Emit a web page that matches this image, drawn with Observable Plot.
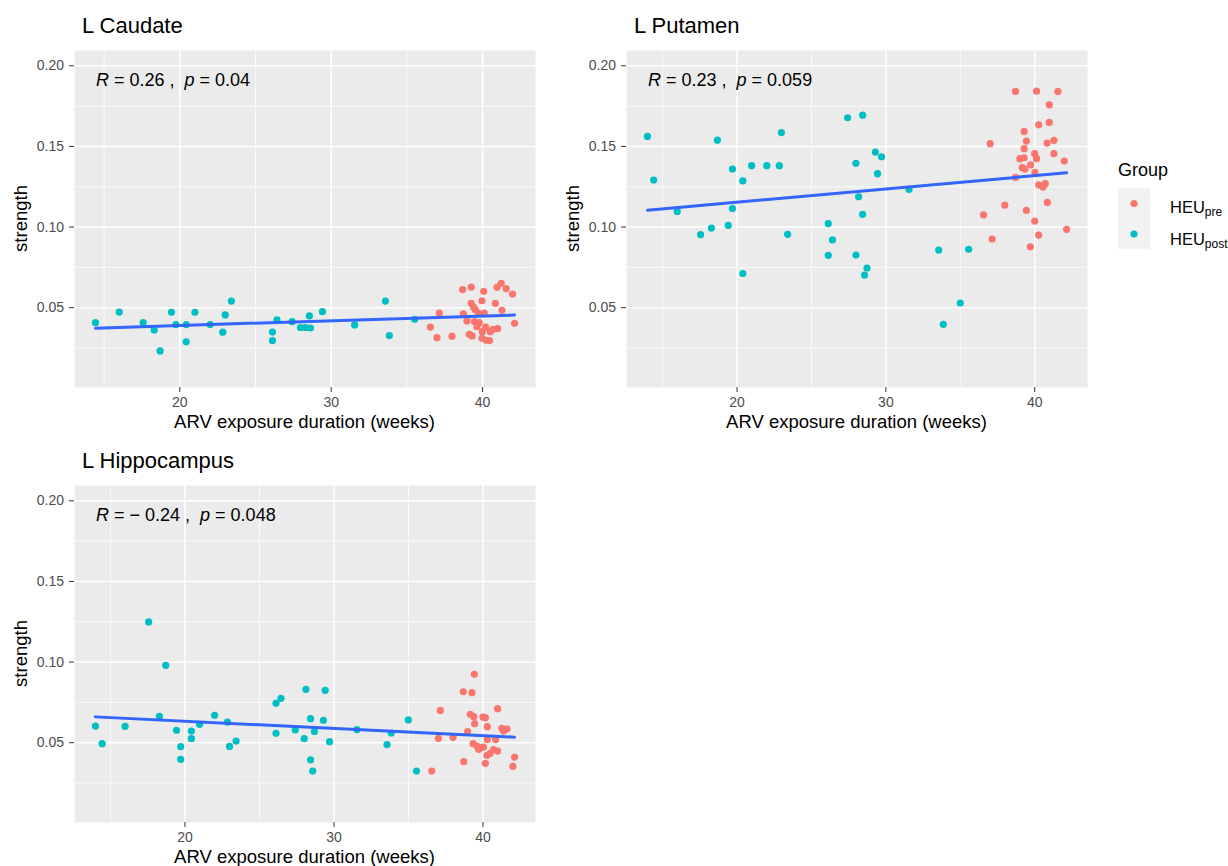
<!DOCTYPE html>
<html>
<head>
<meta charset="utf-8">
<script src="https://cdn.jsdelivr.net/npm/d3@7"></script>
<script src="https://cdn.jsdelivr.net/npm/@observablehq/plot@0.6"></script>
<style>
  body { margin: 0; background: #ffffff; }
  #wrap { position: relative; width: 1228px; height: 866px; font-family: "Liberation Sans", Arial, Helvetica, sans-serif; }
  #wrap svg { position: absolute; overflow: visible; }
</style>
</head>
<body>
<div id="wrap"></div>
<script>
// ---------- data ----------
const panelTitles = ["L Caudate", "L Putamen", "L Hippocampus"];
const statR = ["0.26", "0.23", "\u2212 0.24"];
const statP = ["0.04", "0.059", "0.048"];
const groupLabels = ["pre", "post"];          // HEU_pre, HEU_post
const groupColors = ["#F8766D", "#00BFC4"];
const xTicks = [20, 30, 40];
const xMinorTicks = [15, 25, 35];
const yTicks = [0.05, 0.10, 0.15, 0.20];
const yMinorTicks = [0.025, 0.075, 0.125, 0.175];
const yLimits = [0.01, 0.20];
const xLabel = "ARV exposure duration (weeks)";
const yLabel = "strength";
const legendTitle = "Group";

// L Caudate
const caudatePostX = [14.43, 16.0, 17.58, 18.31, 18.7, 19.45, 19.74, 20.42, 20.42, 21.0, 22.0, 22.84, 23.0, 23.41, 26.12, 26.12, 26.42, 27.42, 27.97, 28.3, 28.63, 28.56, 29.42, 31.55, 33.58, 33.84, 35.51];
const caudatePostY = [0.0407, 0.0473, 0.0407, 0.0362, 0.0232, 0.0471, 0.0395, 0.0395, 0.0288, 0.0471, 0.0395, 0.0348, 0.0455, 0.0541, 0.0349, 0.0296, 0.0424, 0.0413, 0.0377, 0.0377, 0.0374, 0.0449, 0.0475, 0.0393, 0.0541, 0.0327, 0.0428];
const caudatePreX = [36.55, 36.99, 37.14, 37.98, 38.68, 38.73, 38.97, 39.12, 39.25, 39.25, 39.30, 39.41, 39.47, 39.52, 39.63, 39.74, 39.78, 39.96, 39.98, 39.96, 40.07, 40.11, 40.2, 40.24, 40.46, 40.51, 40.69, 40.84, 40.99, 40.95, 41.23, 41.28, 41.56, 41.98, 42.11];
const caudatePreY = [0.0380, 0.0314, 0.0467, 0.0323, 0.0612, 0.0461, 0.0418, 0.0335, 0.0628, 0.0527, 0.0325, 0.0502, 0.0413, 0.0486, 0.0382, 0.0465, 0.0407, 0.0543, 0.0351, 0.0310, 0.0602, 0.0467, 0.0379, 0.0298, 0.0296, 0.0351, 0.0366, 0.0527, 0.0370, 0.0626, 0.0651, 0.0484, 0.0618, 0.0585, 0.0403];

// L Putamen
const putamenPostX = [13.98, 14.40, 15.98, 17.55, 18.28, 18.68, 19.41, 19.69, 19.69, 20.39, 20.39, 20.98, 22.0, 22.84, 22.98, 23.40, 26.13, 26.13, 26.41, 27.43, 27.99, 27.99, 28.17, 28.44, 28.44, 28.73, 28.57, 29.29, 29.44, 29.71, 31.56, 33.55, 33.86, 35.0, 35.56];
const putamenPostY = [0.1562, 0.1292, 0.1097, 0.0953, 0.0994, 0.1539, 0.1010, 0.1360, 0.1115, 0.1286, 0.0712, 0.1381, 0.1381, 0.1381, 0.1586, 0.0955, 0.1021, 0.0825, 0.0920, 0.1678, 0.1395, 0.0826, 0.1188, 0.1694, 0.1079, 0.0746, 0.0702, 0.1465, 0.1331, 0.1436, 0.1233, 0.0857, 0.0397, 0.0529, 0.0862];
const putamenPreX = [38.71, 40.13, 41.56, 40.98, 40.27, 40.98, 39.29, 37.01, 39.44, 39.29, 40.83, 41.29, 40.0, 41.29, 39.0, 39.29, 40.13, 39.73, 39.17, 39.35, 40.02, 41.99, 38.71, 40.27, 40.71, 40.56, 40.85, 37.99, 36.56, 39.44, 40.0, 42.14, 40.27, 37.14, 39.71];
const putamenPreY = [0.1841, 0.1843, 0.1841, 0.1758, 0.1634, 0.1649, 0.1593, 0.1517, 0.1533, 0.1486, 0.1521, 0.1537, 0.1455, 0.1455, 0.1424, 0.1430, 0.1424, 0.1386, 0.1368, 0.1360, 0.1339, 0.1409, 0.1308, 0.1262, 0.1269, 0.1248, 0.1153, 0.1136, 0.1076, 0.1103, 0.1037, 0.0986, 0.0950, 0.0926, 0.0878];

// L Hippocampus
const hippoPostX = [13.99, 14.44, 15.98, 17.56, 18.28, 18.71, 19.43, 19.71, 19.71, 20.43, 20.43, 20.98, 21.99, 22.85, 22.99, 23.43, 26.11, 26.44, 26.11, 27.40, 28.0, 28.12, 28.43, 28.43, 28.57, 28.69, 29.29, 29.41, 29.70, 31.54, 33.56, 33.84, 34.99, 35.54];
const hippoPostY = [0.0603, 0.0494, 0.0601, 0.1249, 0.0663, 0.0980, 0.0577, 0.0475, 0.0397, 0.0572, 0.0525, 0.0614, 0.0670, 0.0628, 0.0477, 0.0510, 0.0744, 0.0775, 0.0558, 0.0579, 0.0525, 0.0831, 0.0649, 0.0394, 0.0324, 0.0570, 0.0639, 0.0825, 0.0506, 0.0581, 0.0488, 0.0560, 0.0641, 0.0324];
const hippoPreX = [36.56, 37.01, 37.14, 37.99, 38.68, 38.71, 38.97, 39.15, 39.26, 39.33, 39.42, 39.44, 39.38, 39.60, 39.71, 39.87, 40.0, 40.16, 40.04, 40.27, 40.29, 40.29, 40.49, 40.71, 40.85, 40.98, 40.98, 40.16, 41.27, 41.38, 41.61, 42.01, 42.12];
const hippoPreY = [0.0324, 0.0527, 0.0700, 0.0533, 0.0816, 0.0382, 0.0568, 0.0676, 0.0810, 0.0494, 0.0924, 0.0618, 0.0661, 0.0479, 0.0459, 0.0469, 0.0659, 0.0655, 0.0473, 0.0421, 0.0599, 0.0519, 0.0434, 0.0457, 0.0519, 0.0711, 0.0448, 0.0372, 0.0589, 0.0572, 0.0585, 0.0353, 0.0411];

// ---------- layout ----------
const layouts = [
  {left: 0,   top: 0,   width: 560, height: 440, marginLeft: 74, marginRight: 25,  marginTop: 50, marginBottom: 53, legend: false},
  {left: 560, top: 0,   width: 668, height: 440, marginLeft: 66, marginRight: 141, marginTop: 50, marginBottom: 53, legend: true},
  {left: 0,   top: 440, width: 560, height: 426, marginLeft: 74, marginRight: 25,  marginTop: 45, marginBottom: 44, legend: false}
];
const series = [
  [caudatePreX, caudatePreY, caudatePostX, caudatePostY],
  [putamenPreX, putamenPreY, putamenPostX, putamenPostY],
  [hippoPreX, hippoPreY, hippoPostX, hippoPostY]
];

const wrap = document.getElementById("wrap");
const FONT = '"Liberation Sans", Arial, Helvetica, sans-serif';

series.forEach(([preX, preY, postX, postY], i) => {
  const L = layouts[i];
  const data = [];
  preX.forEach((x, j) => data.push({x, y: preY[j], g: groupLabels[0]}));
  postX.forEach((x, j) => data.push({x, y: postY[j], g: groupLabels[1]}));
  const [x0, x1] = d3.extent(data, d => d.x);
  const ex = (x1 - x0) * 0.05;
  const ey = (yLimits[1] - yLimits[0]) * 0.05;

  const plot = Plot.plot({
    width: L.width, height: L.height,
    marginLeft: L.marginLeft, marginRight: L.marginRight,
    marginTop: L.marginTop, marginBottom: L.marginBottom,
    style: {fontFamily: FONT, fontSize: "14px", background: "transparent", color: "#000", overflow: "visible"},
    x: {domain: [x0 - ex, x1 + ex]},
    y: {domain: [yLimits[0] - ey, yLimits[1] + ey]},
    color: {domain: groupLabels, range: groupColors},
    marks: [
      Plot.frame({fill: "#EBEBEB", stroke: "none"}),
      Plot.gridX({ticks: xMinorTicks, stroke: "#ffffff", strokeOpacity: 1, strokeWidth: 0.75}),
      Plot.gridY({ticks: yMinorTicks, stroke: "#ffffff", strokeOpacity: 1, strokeWidth: 0.75}),
      Plot.gridX({ticks: xTicks, stroke: "#ffffff", strokeOpacity: 1, strokeWidth: 1.5}),
      Plot.gridY({ticks: yTicks, stroke: "#ffffff", strokeOpacity: 1, strokeWidth: 1.5}),
      Plot.axisX({ticks: xTicks, tickSize: 5, tickPadding: 4.5, stroke: "#333333", fill: "#4D4D4D", label: null}),
      Plot.axisY({ticks: yTicks, tickSize: 5, tickPadding: 5.5, tickFormat: d3.format(".2f"), stroke: "#333333", fill: "#4D4D4D", label: null}),
      Plot.dot(data, {x: "x", y: "y", fill: "g", r: 3.6, stroke: "none"}),
      Plot.linearRegressionY(data, {x: "x", y: "y", stroke: "#3366FF", strokeWidth: 3, ci: 0})
    ]
  });
  plot.style.left = L.left + "px";
  plot.style.top = L.top + "px";
  wrap.appendChild(plot);

  const svg = d3.select(plot);
  const pw = L.width - L.marginLeft - L.marginRight;
  const ph = L.height - L.marginTop - L.marginBottom;

  // title
  svg.append("text")
    .attr("x", L.marginLeft + 8).attr("y", L.marginTop - 17)
    .attr("text-anchor", "start")
    .attr("font-size", 22).attr("fill", "#000").text(panelTitles[i]);

  // correlation annotation
  const st = svg.append("text")
    .attr("x", L.marginLeft + 22).attr("y", L.marginTop + 36)
    .attr("text-anchor", "start")
    .attr("font-size", 18).attr("fill", "#000")
    .attr("xml:space", "preserve").style("white-space", "pre");
  st.append("tspan").attr("font-style", "italic").text("R");
  st.append("tspan").text(" = " + statR[i] + " ,  ");
  st.append("tspan").attr("font-style", "italic").text("p");
  st.append("tspan").text(" = " + statP[i]);

  // axis titles
  svg.append("text")
    .attr("x", L.marginLeft + pw / 2).attr("y", L.height - L.marginBottom + 41)
    .attr("text-anchor", "middle").attr("font-size", 18.5).attr("fill", "#000").text(xLabel);
  svg.append("text")
    .attr("transform", `translate(${L.marginLeft - 47.5},${L.marginTop + ph / 2}) rotate(-90)`)
    .attr("text-anchor", "middle").attr("font-size", 18.5).attr("fill", "#000").text(yLabel);

  // legend
  if (L.legend) {
    const lx = L.marginLeft + pw + 31;   // legend left
    svg.append("text").attr("x", lx).attr("y", 176).attr("text-anchor", "start")
      .attr("font-size", 18).attr("fill", "#000").text(legendTitle);
    svg.append("rect").attr("x", lx).attr("y", 188).attr("width", 32).attr("height", 61).attr("fill", "#F2F2F2");
    const keyY = [203.5, 234];
    const labY = [213, 245];
    groupLabels.forEach((g, k) => {
      svg.append("circle").attr("cx", lx + 16).attr("cy", keyY[k]).attr("r", 3.6).attr("fill", groupColors[k]);
      const t = svg.append("text").attr("x", lx + 52).attr("y", labY[k]).attr("text-anchor", "start")
        .attr("font-size", 16.5).attr("fill", "#000");
      t.append("tspan").text("HEU");
      t.append("tspan").attr("font-size", 12).attr("dy", 2.5).text(g);
    });
  }
});
</script>
</body>
</html>
